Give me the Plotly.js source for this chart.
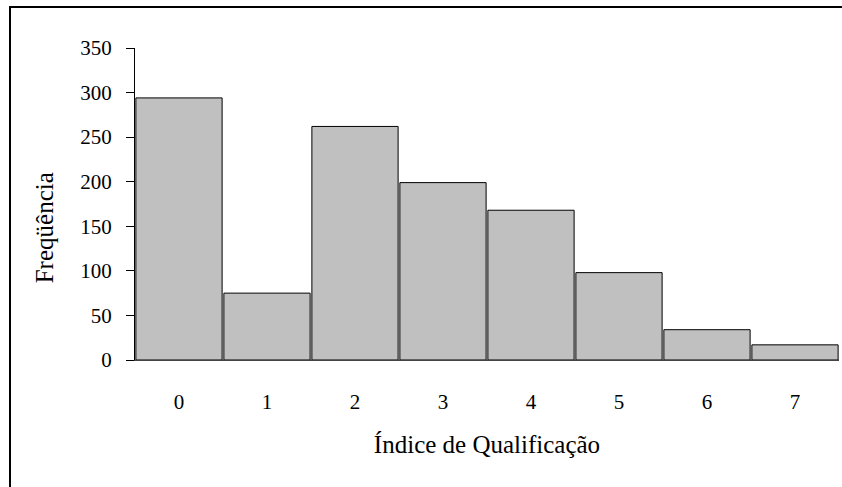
<!DOCTYPE html>
<html>
<head>
<meta charset="utf-8">
<script src="https://cdn.plot.ly/plotly-3.0.1.min.js"></script>
<style>
  html, body { margin: 0; padding: 0; background: #fff; }
  #wrap { position: relative; width: 842px; height: 487px; overflow: hidden; }
  #chart { width: 842px; height: 487px; }
  #frame { position: absolute; left: 9px; top: 6px; width: 900px; height: 900px;
           border-left: 2px solid #000; border-top: 2px solid #000; pointer-events: none; }
</style>
</head>
<body>
<div id="wrap">
  <div id="chart"></div>
  <div id="frame"></div>
</div>
<script>
const categories = ['0', '1', '2', '3', '4', '5', '6', '7'];
const frequencies = [294, 75, 262, 199, 168, 98, 34, 17];
const yTickValues = [0, 50, 100, 150, 200, 250, 300, 350];
const xTitle = 'Índice de Qualificação';
const yTitle = 'Freqüência';

const FONT = 'Liberation Serif';

const trace = {
  type: 'bar',
  x: categories,
  y: frequencies,
  marker: { color: '#C0C0C0', line: { color: '#000', width: 1 } },
  hoverinfo: 'x+y'
};

const layout = {
  width: 842, height: 487,
  margin: { l: 135, r: 3, t: 48, b: 127 },
  paper_bgcolor: '#fff', plot_bgcolor: '#fff',
  font: { family: FONT, color: '#000', size: 21 },
  bargap: 0.02,
  showlegend: false,
  xaxis: {
    type: 'category',
    range: [-0.5, 7.5],
    showline: true, linecolor: '#444', linewidth: 1,
    ticks: '', showgrid: false, zeroline: false,
    tickfont: { family: FONT, size: 21, color: '#000' },
    ticklabelstandoff: 23,
    title: { text: xTitle, font: { family: FONT, size: 25, color: '#000' }, standoff: 22 }
  },
  yaxis: {
    range: [0, 350],
    tickvals: yTickValues,
    ticktext: yTickValues.map(String),
    showline: true, linecolor: '#000', linewidth: 1,
    ticks: 'outside', ticklen: 8, tickwidth: 1, tickcolor: '#000',
    showgrid: false, zeroline: false,
    tickfont: { family: FONT, size: 21, color: '#000' },
    ticklabelstandoff: 10
  },
  annotations: [{
    text: yTitle, textangle: -90,
    xref: 'paper', yref: 'paper',
    x: -0.128, y: 0.425, xanchor: 'center', yanchor: 'middle',
    showarrow: false,
    font: { family: FONT, size: 25, color: '#000' }
  }]
};

Plotly.newPlot('chart', [trace], layout, { displayModeBar: false, staticPlot: true });
</script>
</body>
</html>
